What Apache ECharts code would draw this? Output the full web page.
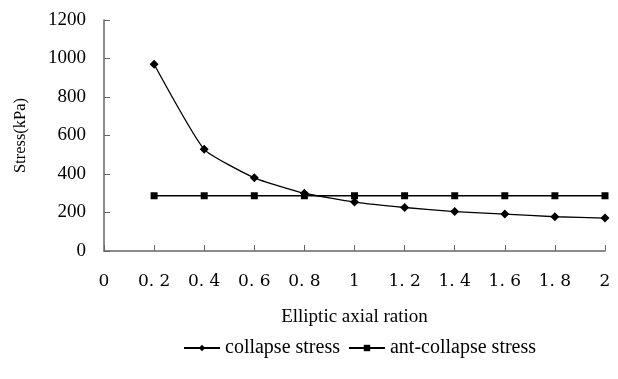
<!DOCTYPE html>
<html>
<head>
<meta charset="utf-8">
<script src="https://cdn.jsdelivr.net/npm/echarts@6/dist/echarts.min.js"></script>
<style>html,body{margin:0;padding:0;background:#fff}#c{width:618px;height:379px}</style>
</head>
<body>
<div id="c"></div>
<script>
var ratios = [0.2, 0.4, 0.6, 0.8, 1.0, 1.2, 1.4, 1.6, 1.8, 2.0];
var collapseStress = [970, 528, 380, 300, 254, 226, 205, 192, 178, 171];
var antCollapseStress = [287, 287, 287, 287, 287, 287, 287, 287, 287, 287];
var seriesNames = ['collapse stress', 'ant-collapse stress'];

function pairs(xs, ys) { return xs.map(function (x, i) { return [x, ys[i]]; }); }

var font = 'Liberation Serif';
var chart = echarts.init(document.getElementById('c'));
chart.setOption({
  animation: false,
  grid: { left: 104, right: 13, top: 20, bottom: 128 },
  legend: {
    bottom: 16, left: 178,
    itemWidth: 36, itemHeight: 8, itemGap: 8,
    textStyle: { fontFamily: font, fontSize: 20, color: '#000' },
    data: seriesNames
  },
  xAxis: {
    type: 'value', min: 0, max: 2, interval: 0.2,
    name: 'Elliptic axial ration', nameLocation: 'middle', nameGap: 57,
    nameTextStyle: { fontFamily: font, fontSize: 19, color: '#000' },
    axisLine: { lineStyle: { color: '#666', width: 1.5 } },
    axisTick: { inside: true, length: 6, lineStyle: { color: '#666' } },
    axisLabel: {
      margin: 22, fontFamily: 'DejaVu Serif', fontSize: 17, color: '#000',
      formatter: function (v) {
        var r = Math.round(v * 10) / 10;
        return Number.isInteger(r) ? String(r) : String(r).replace('.', '. ');
      }
    },
    splitLine: { show: false }
  },
  yAxis: {
    type: 'value', min: 0, max: 1200, interval: 200,
    name: 'Stress(kPa)', nameLocation: 'middle', nameGap: 75, nameRotate: 90,
    nameTextStyle: { fontFamily: font, fontSize: 16.5, color: '#000' },
    axisLine: { show: true, lineStyle: { color: '#666', width: 1.5 } },
    axisTick: { show: true, inside: true, length: 6, lineStyle: { color: '#666' } },
    axisLabel: { margin: 18, fontFamily: font, fontSize: 19, color: '#000',
      formatter: function (v) { return String(v); } },
    splitLine: { show: false }
  },
  series: [
    {
      name: seriesNames[0], type: 'line', smooth: 0.15,
      data: pairs(ratios, collapseStress),
      symbol: 'diamond', symbolSize: 9,
      lineStyle: { color: '#000', width: 1.3 },
      itemStyle: { color: '#000' }
    },
    {
      name: seriesNames[1], type: 'line',
      data: pairs(ratios, antCollapseStress),
      symbol: 'rect', symbolSize: 7,
      lineStyle: { color: '#000', width: 1.3 },
      itemStyle: { color: '#000' }
    }
  ]
});
</script>
</body>
</html>
